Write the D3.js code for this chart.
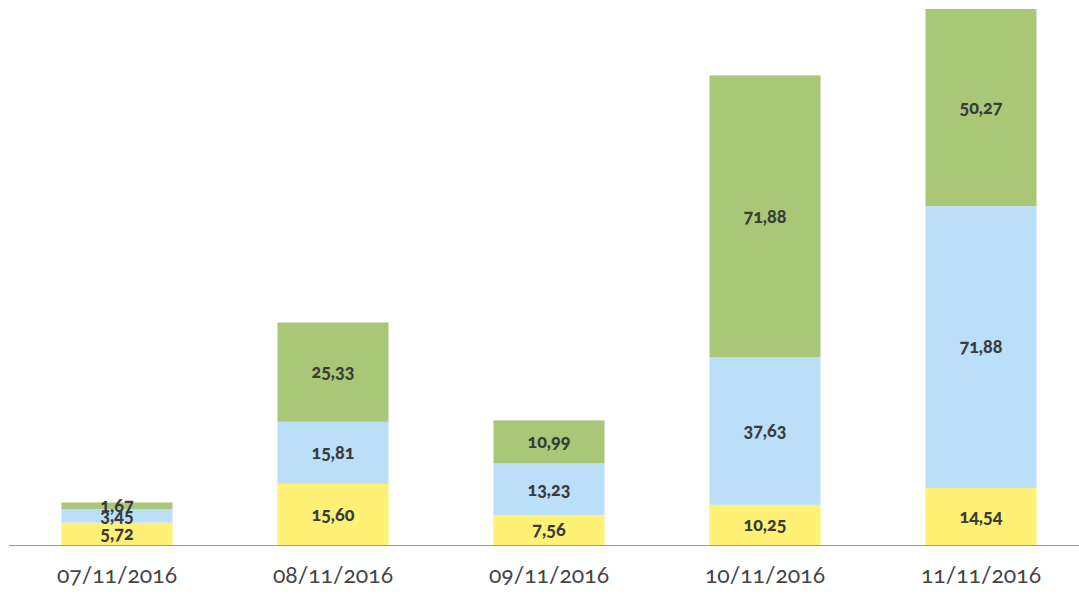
<!DOCTYPE html>
<html>
<head>
<meta charset="utf-8">
<script src="https://cdn.jsdelivr.net/npm/d3@7"></script>
<style>
  body { margin: 0; background: #fff; }
  svg { display: block; }
</style>
</head>
<body>
<div id="chart"></div>
<script>
// data
const dates = ['07/11/2016', '08/11/2016', '09/11/2016', '10/11/2016', '11/11/2016'];
const seriesKeys = ['yellow', 'blue', 'green'];
const yellowVals = [5.72, 15.60, 7.56, 10.25, 14.54];
const blueVals = [3.45, 15.81, 13.23, 37.63, 71.88];
const greenVals = [1.67, 25.33, 10.99, 71.88, 50.27];
const colors = { yellow: '#fff176', blue: '#bbdef9', green: '#a9c777' };

const width = 1079, height = 594;
const baseY = 545;

const rows = dates.map((d, i) => ({ date: d, yellow: yellowVals[i], blue: blueVals[i], green: greenVals[i] }));
const stacked = d3.stack().keys(seriesKeys)(rows);
const maxTotal = d3.max(rows, r => r.yellow + r.blue + r.green);

const x = d3.scaleBand()
  .domain(dates)
  .range([9, 1089])
  .paddingInner(0.486)
  .paddingOuter(0.243);

const y = d3.scaleLinear()
  .domain([0, maxTotal])
  .range([baseY, 9]);

const svg = d3.select('#chart').append('svg')
  .attr('width', width)
  .attr('height', height);

const fmt = v => d3.format('.2f')(v).replace('.', ',');

// bars
const layers = svg.selectAll('g.layer')
  .data(stacked)
  .join('g')
  .attr('class', 'layer')
  .attr('fill', d => colors[d.key]);

layers.selectAll('rect')
  .data(d => d)
  .join('rect')
  .attr('x', d => x(d.data.date))
  .attr('width', x.bandwidth())
  .attr('y', d => y(d[1]))
  .attr('height', d => y(d[0]) - y(d[1]));

// value labels (centred in each segment)
stacked.forEach(layer => {
  svg.append('g').selectAll('text')
    .data(layer)
    .join('text')
    .attr('x', d => x(d.data.date) + x.bandwidth() / 2)
    .attr('y', d => (y(d[0]) + y(d[1])) / 2)
    .attr('dy', '0.35em')
    .attr('text-anchor', 'middle')
    .attr('font-family', 'Lato, sans-serif')
    .attr('font-weight', 900)
    .attr('font-size', '18px')
    .style('font-variant-numeric', 'oldstyle-nums')
    .attr('fill', '#3b3b3b')
    .text(d => fmt(d[1] - d[0]));
});

// x axis
const xAxis = d3.axisBottom(x).tickSize(0).tickPadding(22);
const ax = svg.append('g')
  .attr('transform', `translate(0, ${baseY})`)
  .call(xAxis);
ax.select('.domain').attr('d', `M9,0.5H${width}`).attr('stroke', '#999');
ax.selectAll('text')
  .attr('font-family', 'Lato, sans-serif')
  .attr('font-size', '23px')
  .style('font-variant-numeric', 'oldstyle-nums')
  .attr('fill', '#444');
</script>
</body>
</html>
